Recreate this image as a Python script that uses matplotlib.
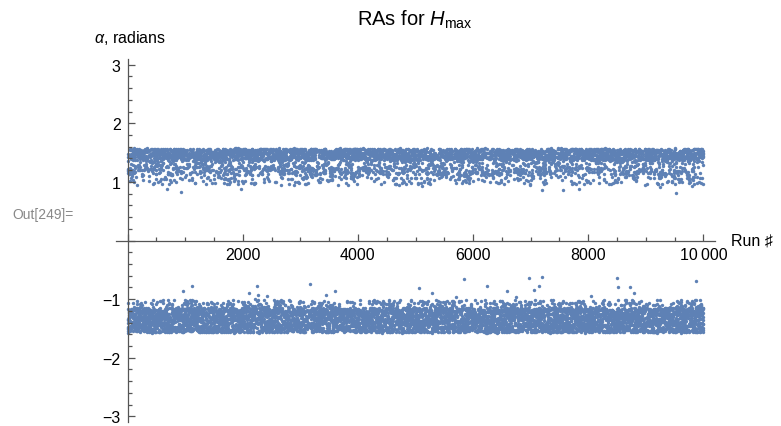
import numpy as np
import matplotlib
matplotlib.use("Agg")
import matplotlib.pyplot as plt
from matplotlib.ticker import MultipleLocator, FuncFormatter

plt.rcParams["font.family"] = ["Liberation Sans", "DejaVu Sans"]
plt.rcParams["mathtext.fontset"] = "custom"
plt.rcParams["mathtext.rm"] = "Liberation Sans"
plt.rcParams["mathtext.it"] = "Liberation Sans:italic"

# --- data ------------------------------------------------------------------
N_RUNS = 10000
UPPER_SHARE = 0.42          # fraction of runs in the alpha > 0 band
# band shapes (distance from +-pi/2), read off the density of the cloud
UPPER_DENSE_DEPTH = 0.20
UPPER_MID_DEPTH = 0.45
UPPER_TAIL = (0.30, 0.62)
LOWER_DENSE_DEPTH = 0.42
LOWER_FRINGE = (0.35, 0.56)

# isolated points well away from the bands
upper_out_run = [678, 922, 1965, 5118, 7200, 7553, 7831, 9245, 9523, 9809, 9993]
upper_out_alpha = [0.884, 0.833, 0.874, 0.925, 0.862, 0.862, 0.874, 0.918, 0.811, 0.925, 0.959]
lower_out_run = [967, 1113, 574, 1826, 2110, 2254, 2209, 2271, 2428, 3176, 3443, 3610,
                 5054, 5280, 5697, 5849, 6243, 6597, 6741, 6967, 7061, 7148, 7193,
                 8040, 8497, 8515, 8730, 8793, 9871]
lower_out_alpha = [-0.862, -0.782, -1.027, -1.015, -0.891, -0.771, -0.998, -0.925, -0.952,
                   -0.747, -0.925, -0.857, -0.816, -0.901, -0.959, -0.662, -0.782, -0.862,
                   -0.969, -0.645, -0.850, -0.782, -0.623, -0.952, -0.645, -0.788, -0.788,
                   -0.891, -0.696]

x_ticks = [2000, 4000, 6000, 8000, 10000]
x_tick_labels = ["2000", "4000", "6000", "8000", "10\u2009000"]
y_ticks = [-3, -2, -1, 1, 2, 3]

# --- dense cloud (too many points to read one by one) -----------------------
rng = np.random.default_rng(249)
taken = set(upper_out_run) | set(lower_out_run)
runs = np.array([r for r in range(1, N_RUNS + 1) if r not in taken])
is_up = rng.random(runs.size) < UPPER_SHARE
n_up, n_lo = is_up.sum(), (~is_up).sum()

pick = rng.random(n_up)
d_up = np.where(pick < 0.5, rng.uniform(0, UPPER_DENSE_DEPTH, n_up),
                np.where(pick < 0.85, rng.uniform(0, UPPER_MID_DEPTH, n_up),
                         rng.uniform(*UPPER_TAIL, n_up)))
pick = rng.random(n_lo)
d_lo = np.where(pick < 0.88, rng.uniform(0, LOWER_DENSE_DEPTH, n_lo),
                rng.uniform(*LOWER_FRINGE, n_lo))

alpha = np.empty(runs.size)
alpha[is_up] = np.pi / 2 - d_up
alpha[~is_up] = -np.pi / 2 + d_lo

xs = np.concatenate([runs, upper_out_run, lower_out_run])
ys = np.concatenate([alpha, upper_out_alpha, lower_out_alpha])

# --- plot ---------------------------------------------------------------------
fig = plt.figure(figsize=(7.81, 4.27), dpi=100)
ax = fig.add_axes([116 / 781, 3.8 / 427, 599 / 781, 363.4 / 427])
ax.scatter(xs, ys, s=6, color="#5E81B5", linewidths=0)

ax.set_xlim(-200, 10200)
ax.set_ylim(-3.1, 3.1)
for s in ["top", "right"]:
    ax.spines[s].set_visible(False)
for s in ["left", "bottom"]:
    ax.spines[s].set_position("zero")
    ax.spines[s].set_color("#555555")
    ax.spines[s].set_linewidth(0.9)

ax.xaxis.set_major_locator(MultipleLocator(2000))
ax.xaxis.set_minor_locator(MultipleLocator(500))
ax.yaxis.set_major_locator(MultipleLocator(1))
ax.yaxis.set_minor_locator(MultipleLocator(0.2))
xl = dict(zip(x_ticks, x_tick_labels))
ax.xaxis.set_major_formatter(FuncFormatter(lambda v, p: xl.get(int(round(v)), "")))
ax.yaxis.set_major_formatter(FuncFormatter(
    lambda v, p: ("\u2212%d" % -round(v) if v < 0 else "%d" % round(v)) if round(v) in y_ticks else ""))
ax.tick_params(which="both", direction="in", color="#555555", width=0.9, labelsize=11.5, pad=5)
ax.tick_params(which="major", length=5)
ax.tick_params(which="minor", length=3)

fig.text(415 / 781, 1 - 20 / 427, r"RAs for $H_{\mathrm{max}}$", fontsize=14.5, ha="center", va="center")
fig.text(166 / 781, 1 - 38 / 427, r"$\alpha$, radians", fontsize=11.5, ha="right", va="center")
fig.text(731 / 781, 1 - 241 / 427, "Run \u266f", fontsize=11.5, ha="left", va="center")
fig.text(12 / 781, 1 - 215 / 427, "Out[249]=", fontsize=10, color="#888888", ha="left", va="center")

fig.savefig("out.png", dpi=100)
